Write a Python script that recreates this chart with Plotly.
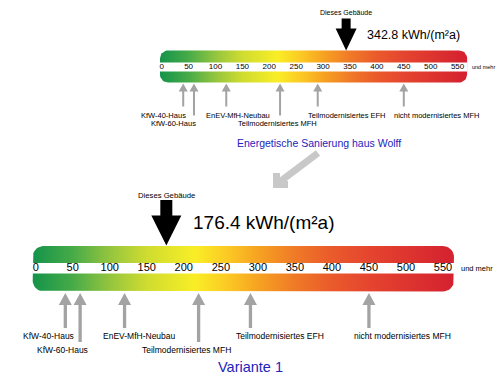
import numpy as np
import plotly.graph_objects as go

# ---------------- data ----------------
SCALE_TICKS = [0, 50, 100, 150, 200, 250, 300, 350, 400, 450, 500, 550]
TICK_LABELS = ["0", "50", "100", "150", "200", "250", "300", "350", "400", "450", "500", "550"]
REF_NAMES = ["KfW-40-Haus", "KfW-60-Haus", "EnEV-MfH-Neubau",
             "Teilmodernisiertes MFH", "Teilmodernisiertes EFH", "nicht modernisiertes MFH"]
REF_VALUES = [40, 60, 120, 220, 290, 450]
BUILDING_VALUES = [342.8, 176.4]          # current state, Variante 1
PANEL_TITLES = ["Energetische Sanierung haus Wolff", "Variante 1"]
UNIT = "kWh/(m²a)"
MARKER_TEXT = "Dieses Gebäude"
EXTRA_TEXT = "und mehr"
GRADIENT_VALUES = [-4, 50, 100, 150, 215, 260, 300, 350, 400, 450, 570]
GRADIENT_COLORS = ["#14934a", "#47ab48", "#94c53e", "#cfdc30", "#f9ee26", "#fcc824",
                   "#f6a321", "#f07a27", "#ea5a2b", "#e5452f", "#d41f30"]

# ---------------- layout / style ----------------
W, H = 500, 380
FONT = "Liberation Sans, Arial, sans-serif"
REF_ROWS = [0, 1, 0, 1, 0, 0]
PANELS = [
    dict(xaxis="x", px0=161.7, ppu=0.538, bar_top=50.5, band_top=62.5, band_bot=71.5, bar_bot=82.5,
         pad_l=1.7, pad_r=9.5, radius=8, tick_size=8, tick_y=67, extra_size=5.5, extra_dx=3,
         arr_tip=50.5, arr_len=32, arr_shaft=9, arr_head_w=21, arr_head_h=22,
         marker_y=12, marker_size=7, value_dx=19, value_y=35, value_size=12.5,
         ref_tip=83.5, ref_len=[23, 32], ref_shaft=2, ref_head_w=9, ref_head_h=8,
         ref_label_y=[115, 123.5], ref_label_size=7.5,
         ref_label_dx=[-19.4, -20.5, 11.5, -3, 29.5, 32.5],
         title_x=319, title_y=143, title_size=10.5),
    dict(xaxis="x2", px0=35.7, ppu=0.7405, bar_top=246, band_top=263, band_bot=273.5, bar_bot=291.5,
         pad_l=3, pad_r=11, radius=11, tick_size=11, tick_y=268.5, extra_size=7.5, extra_dx=5,
         arr_tip=245.5, arr_len=45.5, arr_shaft=12, arr_head_w=30, arr_head_h=30,
         marker_y=195, marker_size=7.7, value_dx=25, value_y=222, value_size=19,
         ref_tip=293, ref_len=[35, 49], ref_shaft=3.3, ref_head_w=13, ref_head_h=12,
         ref_label_y=[336, 350], ref_label_size=8.5,
         ref_label_dx=[-16.5, -18, 14.5, -12, 30, 34],
         title_x=250, title_y=367, title_size=14.5),
]
REF_COLOR = "#a3a3a3"
BIG_ARROW_COLOR = "#c8c8c8"
TITLE_COLOR = "#2323bb"


def rounded_rect(x0, x1, y0, y1, r, n=10):
    """Rounded rectangle outline in pixel space (y downward)."""
    pts = []
    corners = [(x1 - r, y0 + r, -np.pi / 2, 0), (x1 - r, y1 - r, 0, np.pi / 2),
               (x0 + r, y1 - r, np.pi / 2, np.pi), (x0 + r, y0 + r, np.pi, 1.5 * np.pi)]
    for cx, cy, a0, a1 in corners:
        for a in np.linspace(a0, a1, n):
            pts.append((cx + r * np.cos(a), cy + r * np.sin(a)))
    pts.append(pts[0])
    return np.array(pts)


def down_arrow(shaft, head_w, head_h, length):
    # tip at (0,0); pixel-mode y positive upward
    pts = [(0, 0), (-head_w / 2, head_h), (-shaft / 2, head_h), (-shaft / 2, length),
           (shaft / 2, length), (shaft / 2, head_h), (head_w / 2, head_h)]
    return "M" + " L".join(f"{x:.2f},{y:.2f}" for x, y in pts) + " Z"


def up_arrow(shaft, head_w, head_h, length):
    pts = [(0, 0), (-head_w / 2, -head_h), (-shaft / 2, -head_h), (-shaft / 2, -length),
           (shaft / 2, -length), (shaft / 2, -head_h), (head_w / 2, -head_h)]
    return "M" + " L".join(f"{x:.2f},{y:.2f}" for x, y in pts) + " Z"


fig = go.Figure()
shapes = []
annotations = []
layout_axes = {}

for i, p in enumerate(PANELS):
    ax = p["xaxis"]
    axname = "xaxis" if ax == "x" else "xaxis" + ax[1:]
    r0 = -p["px0"] / p["ppu"]
    r1 = (W - p["px0"]) / p["ppu"]
    layout_axes[axname] = dict(range=[r0, r1], domain=[0, 1], visible=False, fixedrange=True,
                               anchor="y", **({} if ax == "x" else {"overlaying": "x"}))

    def to_units(px, p=p):
        return (np.asarray(px) - p["px0"]) / p["ppu"]

    smin, smax = SCALE_TICKS[0], SCALE_TICKS[-1]
    bx0_px = p["px0"] + smin * p["ppu"] - p["pad_l"]
    bx1_px = p["px0"] + smax * p["ppu"] + p["pad_r"]
    rr = rounded_rect(bx0_px, bx1_px, p["bar_top"], p["bar_bot"], p["radius"])
    ux = to_units(rr[:, 0])
    u0, u1 = float(to_units(bx0_px)), float(to_units(bx1_px))
    span = GRADIENT_VALUES[-1] - GRADIENT_VALUES[0]
    cs = [[(v - GRADIENT_VALUES[0]) / span, c] for v, c in zip(GRADIENT_VALUES, GRADIENT_COLORS)]

    # gradient scale bar
    fig.add_trace(go.Scatter(x=ux, y=rr[:, 1], xaxis=ax, yaxis="y", mode="lines",
                             line=dict(width=0, color="rgba(0,0,0,0)"), fill="toself",
                             fillgradient=dict(type="horizontal", colorscale=cs,
                                               start=GRADIENT_VALUES[0], stop=GRADIENT_VALUES[-1]),
                             hoverinfo="skip", showlegend=False))
    # white band
    fig.add_trace(go.Scatter(x=[u0, u1, u1, u0, u0],
                             y=[p["band_top"], p["band_top"], p["band_bot"], p["band_bot"], p["band_top"]],
                             xaxis=ax, yaxis="y", mode="lines", line=dict(width=0, color="white"),
                             fill="toself", fillcolor="white", hoverinfo="skip", showlegend=False))
    # tick labels
    fig.add_trace(go.Scatter(x=SCALE_TICKS, y=[p["tick_y"]] * len(SCALE_TICKS), text=TICK_LABELS,
                             mode="text", textposition="middle center",
                             textfont=dict(family=FONT, size=p["tick_size"], color="black"),
                             xaxis=ax, yaxis="y", hoverinfo="skip", showlegend=False))
    annotations.append(dict(x=u1, y=p["tick_y"], xref=ax, yref="y", text=EXTRA_TEXT, showarrow=False,
                            xanchor="left", yanchor="middle", xshift=p["extra_dx"],
                            font=dict(family=FONT, size=p["extra_size"], color="black")))

    # building marker (black arrow)
    bv = BUILDING_VALUES[i]
    shapes.append(dict(type="path", xref=ax, yref="y", xsizemode="pixel", ysizemode="pixel",
                       xanchor=bv, yanchor=p["arr_tip"],
                       path=down_arrow(p["arr_shaft"], p["arr_head_w"], p["arr_head_h"], p["arr_len"]),
                       fillcolor="black", line=dict(width=0), layer="above"))
    annotations.append(dict(x=bv, y=p["marker_y"], xref=ax, yref="y", text=MARKER_TEXT, showarrow=False,
                            xanchor="center", yanchor="middle",
                            font=dict(family=FONT, size=p["marker_size"], color="black")))
    annotations.append(dict(x=bv, y=p["value_y"], xref=ax, yref="y", text=f"{bv} {UNIT}", showarrow=False,
                            xanchor="left", yanchor="middle", xshift=p["value_dx"],
                            font=dict(family=FONT, size=p["value_size"], color="black")))

    # reference arrows + labels
    for name, v, row, dx in zip(REF_NAMES, REF_VALUES, REF_ROWS, p["ref_label_dx"]):
        shapes.append(dict(type="path", xref=ax, yref="y", xsizemode="pixel", ysizemode="pixel",
                           xanchor=v, yanchor=p["ref_tip"],
                           path=up_arrow(p["ref_shaft"], p["ref_head_w"], p["ref_head_h"], p["ref_len"][row]),
                           fillcolor=REF_COLOR, line=dict(width=0), layer="above"))
        annotations.append(dict(x=v, y=p["ref_label_y"][row], xref=ax, yref="y", text=name,
                                showarrow=False, xanchor="center", yanchor="middle", xshift=dx,
                                font=dict(family=FONT, size=p["ref_label_size"], color="black")))

    annotations.append(dict(x=p["title_x"] / W, y=p["title_y"], xref="paper", yref="y",
                            text=PANEL_TITLES[i], showarrow=False, xanchor="center", yanchor="middle",
                            font=dict(family=FONT, size=p["title_size"], color=TITLE_COLOR)))

# decorative transition arrow (pixel axis x3)
layout_axes["xaxis3"] = dict(range=[0, W], domain=[0, 1], visible=False, fixedrange=True,
                             anchor="y", overlaying="x")
shapes.append(dict(type="line", xref="x3", yref="y", x0=318, y0=153, x1=277.5, y1=183.5,
                   line=dict(color=BIG_ARROW_COLOR, width=7), layer="above"))
shapes.append(dict(type="path", xref="x3", yref="y", path="M276.5,173 L276.5,184.5 L288,184.5",
                   line=dict(color=BIG_ARROW_COLOR, width=7), layer="above"))

fig.update_layout(
    width=W, height=H, margin=dict(l=0, r=0, t=0, b=0, pad=0),
    paper_bgcolor="white", plot_bgcolor="white", showlegend=False,
    yaxis=dict(range=[H, 0], domain=[0, 1], visible=False, fixedrange=True),
    shapes=shapes, annotations=annotations, **layout_axes,
)

fig.write_html("out.html", config={"displayModeBar": False, "staticPlot": True},
               post_script="document.body.style.margin='0px';")
